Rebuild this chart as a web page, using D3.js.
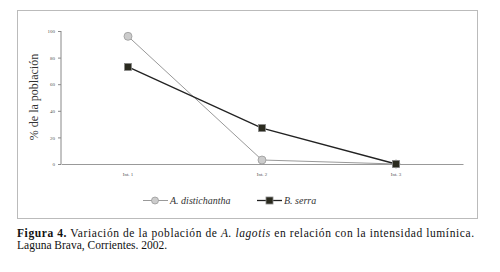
<!DOCTYPE html>
<html>
<head>
<meta charset="utf-8">
<script src="https://cdn.jsdelivr.net/npm/d3@7"></script>
<style>
  body { margin: 0; background: #fff; }
  svg { display: block; }
</style>
</head>
<body>
<div id="chart"></div>
<script>
var categories = ["Int. 1", "Int. 2", "Int. 3"];
var distichantha = [96, 3, 0];
var serra = [73, 27, 0];
var yTicks = [0, 20, 40, 60, 80, 100];

var svg = d3.select("#chart")
            .append("svg")
            .attr("width", 500)
            .attr("height", 272);

// frame
svg.append("rect")
    .attr("x", 17.5).attr("y", 10.5)
    .attr("width", 460).attr("height", 208)
    .attr("fill", "none")
    .attr("stroke", "#bbb")
    .attr("stroke-width", 1);

var margin = {left: 61, top: 31};
var width = 402, height = 133;

var g = svg.append("g")
    .attr("transform", "translate(" + margin.left + "," + margin.top + ")");

var x = d3.scaleBand()
        .domain(categories)
        .range([0, width])
        .padding(0);

var y = d3.scaleLinear()
        .domain([0, 100])
        .range([height, 0]);

var yAxis = g.append("g")
    .call(d3.axisLeft(y).tickValues(yTicks).tickSize(3).tickPadding(3));
yAxis.select(".domain").attr("stroke", "#888").attr("d", "M0," + height + "V0");
yAxis.selectAll(".tick line").attr("stroke", "#888");
yAxis.selectAll("text").style("font", "5px 'Liberation Serif'").attr("fill", "#555");

var xAxis = g.append("g")
    .attr("transform", "translate(0," + height + ")")
    .call(d3.axisBottom(x).tickSize(0).tickPadding(8));
xAxis.select(".domain").attr("stroke", "#999");
xAxis.selectAll("text").style("font", "5px 'Liberation Serif'").attr("fill", "#555");

var cx = function(i) { return x(categories[i]) + x.bandwidth() / 2; };

var line = d3.line()
    .x(function(d, i) { return cx(i); })
    .y(function(d) { return y(d); });

g.append("path")
    .datum(distichantha)
    .attr("d", line)
    .attr("fill", "none")
    .attr("stroke", "#999")
    .attr("stroke-width", 1);

g.append("path")
    .datum(serra)
    .attr("d", line)
    .attr("fill", "none")
    .attr("stroke", "#222")
    .attr("stroke-width", 1.3);

g.selectAll(".dot")
    .data(distichantha)
    .join("circle")
    .attr("cx", function(d, i) { return cx(i); })
    .attr("cy", function(d) { return y(d); })
    .attr("r", 4)
    .attr("fill", "#ccc")
    .attr("stroke", "#999")
    .attr("stroke-width", 0.8);

g.selectAll(".sq")
    .data(serra)
    .join("rect")
    .attr("x", function(d, i) { return cx(i) - 3.5; })
    .attr("y", function(d) { return y(d) - 3.5; })
    .attr("width", 7)
    .attr("height", 7)
    .attr("fill", "#2a2a1e")
    .attr("stroke", "#888")
    .attr("stroke-width", 0.8);

// y label
svg.append("text")
    .attr("transform", "translate(38,97)rotate(-90)")
    .attr("text-anchor", "middle")
    .style("font", "12px 'Liberation Serif'")
    .attr("fill", "#333")
    .text("% de la población");

// legend
var leg = svg.append("g");
leg.append("line").attr("x1", 143).attr("x2", 168).attr("y1", 200.5).attr("y2", 200.5)
    .attr("stroke", "#999");
leg.append("circle").attr("cx", 155).attr("cy", 200.5).attr("r", 3.5)
    .attr("fill", "#ccc").attr("stroke", "#999").attr("stroke-width", 0.8);
leg.append("text").attr("x", 170).attr("y", 204)
    .style("font", "italic 10px 'Liberation Serif'").attr("fill", "#333")
    .text("A. distichantha");
leg.append("line").attr("x1", 257).attr("x2", 282).attr("y1", 200.5).attr("y2", 200.5)
    .attr("stroke", "#222").attr("stroke-width", 1.3);
leg.append("rect").attr("x", 266).attr("y", 197).attr("width", 7).attr("height", 7)
    .attr("fill", "#2a2a1e").attr("stroke", "#888").attr("stroke-width", 0.8);
leg.append("text").attr("x", 284).attr("y", 204)
    .style("font", "italic 10px 'Liberation Serif'").attr("fill", "#333")
    .text("B. serra");

// caption
var cap = svg.append("text")
    .attr("x", 17).attr("y", 237)
    .attr("textLength", 457)
    .attr("lengthAdjust", "spacing")
    .style("font", "11.5px 'Liberation Serif'")
    .attr("fill", "#111");
cap.append("tspan").attr("font-weight", "bold").text("Figura 4.");
cap.append("tspan").text(" Variación de la población de ");
cap.append("tspan").attr("font-style", "italic").text("A. lagotis");
cap.append("tspan").text(" en relación con la intensidad lumínica.");

svg.append("text")
    .attr("x", 17).attr("y", 249)
    .style("font", "11.5px 'Liberation Serif'")
    .attr("fill", "#111")
    .text("Laguna Brava, Corrientes. 2002.");
</script>
</body>
</html>
